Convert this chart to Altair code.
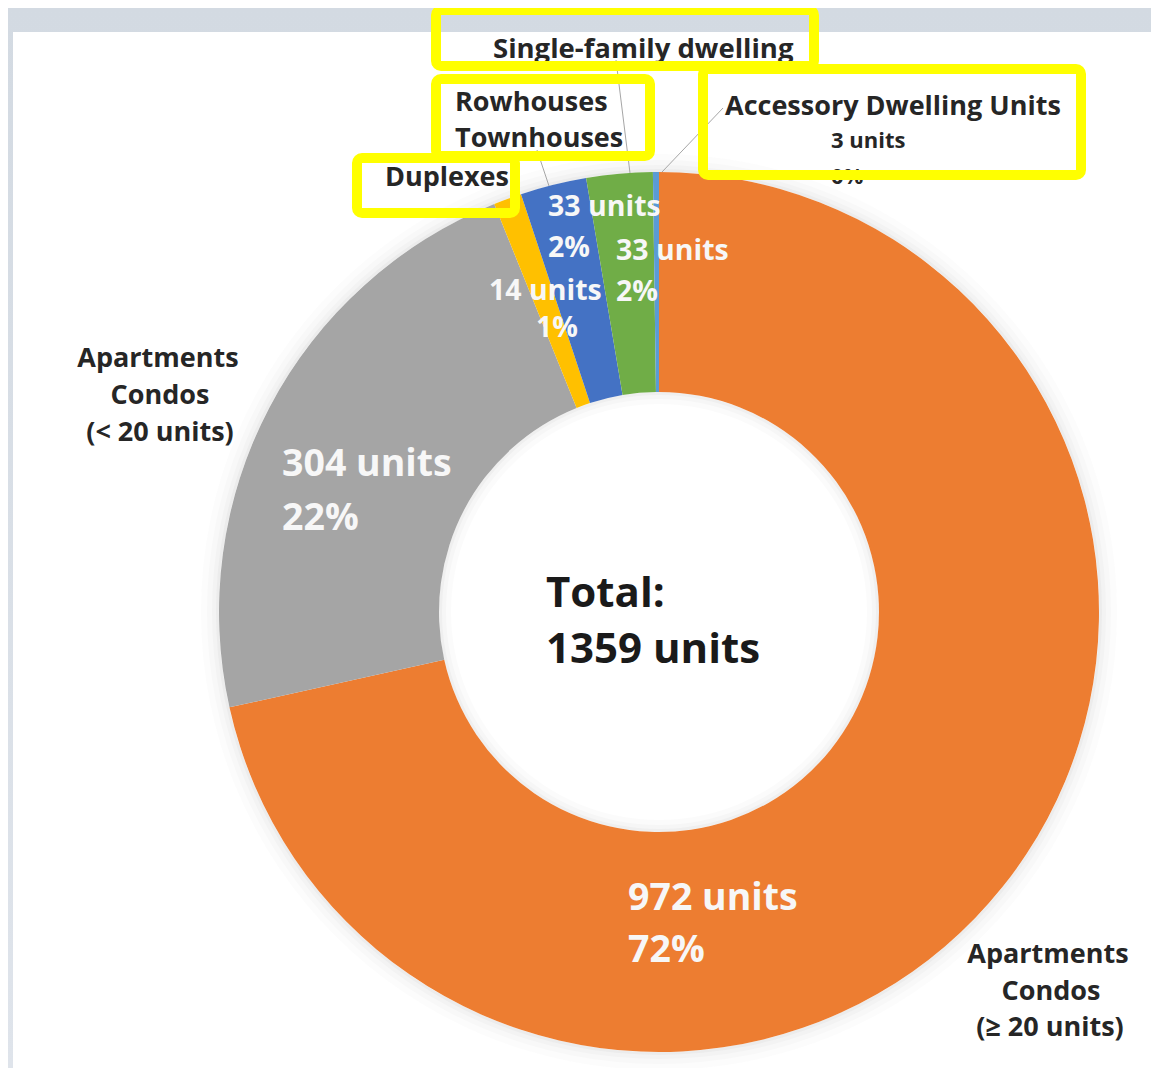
import altair as alt
import pandas as pd
import math

# ---------------- data ----------------
categories = [
    "Apartments Condos (≥ 20 units)",
    "Apartments Condos (< 20 units)",
    "Duplexes",
    "Rowhouses Townhouses",
    "Single-family dwelling",
    "Accessory Dwelling Units",
]
units = [972, 304, 14, 33, 33, 3]
colors = ["#ED7D31", "#A5A5A5", "#FFC000", "#4472C4", "#70AD47", "#5B9BD5"]
total_units = 1359

pct = [f"{round(100 * u / total_units)}%" for u in units]
unit_txt = [f"{u} units" for u in units]

# ---------------- layout (image pixel coords) ----------------
W, H = 1143, 1060
OFF = 8  # page margin
CX, CY = 659, 612
R_OUT, R_IN = 440, 220
FONT = "Open Sans"
DARK = "#262626"
WHITE = "#f7f7f7"

xs = alt.Scale(domain=[OFF, OFF + W], nice=False, zero=False)
ys = alt.Scale(domain=[OFF, OFF + H], nice=False, zero=False, reverse=True)

# background + panel
bg = pd.DataFrame([{"x": OFF, "x2": OFF + W, "y": OFF, "y2": OFF + H}])
background = alt.Chart(bg).mark_rect(
    color=alt.Gradient(gradient="linear", x1=0, y1=0, x2=0, y2=1,
                       stops=[alt.GradientStop(color="#d3dae2", offset=0),
                              alt.GradientStop(color="#dfe4eb", offset=1)])
).encode(x=alt.X("x:Q", scale=xs, axis=None), x2="x2:Q",
         y=alt.Y("y:Q", scale=ys, axis=None), y2="y2:Q")

pn = pd.DataFrame([{"x": 13, "x2": OFF + W, "y": 32, "y2": OFF + H}])
panel = alt.Chart(pn).mark_rect(color="white").encode(
    x=alt.X("x:Q", scale=xs, axis=None), x2="x2:Q",
    y=alt.Y("y:Q", scale=ys, axis=None), y2="y2:Q")

# soft shadow rings
ring_layers = []
for r0, r1, op in [(R_OUT, R_OUT + 3, 0.05), (R_OUT, R_OUT + 7, 0.04), (R_OUT, R_OUT + 12, 0.03),
                   (R_OUT, R_OUT + 18, 0.02),
                   (R_IN - 3, R_IN, 0.05), (R_IN - 7, R_IN, 0.04), (R_IN - 12, R_IN, 0.03)]:
    ring_layers.append(
        alt.Chart(pd.DataFrame([{"a": 1}])).mark_arc(
            theta=0, theta2=2 * math.pi, innerRadius=r0, outerRadius=r1,
            color="#7f7f7f", opacity=op
        ).encode(x=alt.value(CX - OFF), y=alt.value(CY - OFF))
    )

# donut
df = pd.DataFrame({"cat": categories, "units": units, "idx": list(range(len(units)))})
donut = alt.Chart(df).mark_arc(innerRadius=R_IN, outerRadius=R_OUT).encode(
    theta=alt.Theta("units:Q", stack=True),
    order=alt.Order("idx:Q"),
    color=alt.Color("cat:N", scale=alt.Scale(domain=categories, range=colors), legend=None),
    x=alt.value(CX - OFF), y=alt.value(CY - OFF),
)

# leader lines
leaders = pd.DataFrame([
    {"x": 616, "y": 60, "x2": 630, "y2": 173},
    {"x": 537, "y": 150, "x2": 549, "y2": 186},
    {"x": 723, "y": 108, "x2": 662, "y2": 172},
])
lines = alt.Chart(leaders).mark_rule(color="#a6a6a6", strokeWidth=1).encode(
    x=alt.X("x:Q", scale=xs), y=alt.Y("y:Q", scale=ys), x2="x2:Q", y2="y2:Q")

# text labels
labels = [
    # outside labels (left aligned)
    dict(t="Single-family dwelling", x=493, y=58, s=27.5, c=DARK, a="left"),
    dict(t="Rowhouses", x=455, y=111, s=27, c=DARK, a="left"),
    dict(t="Townhouses", x=455, y=147, s=27, c=DARK, a="left"),
    dict(t="Duplexes", x=385, y=186, s=27, c=DARK, a="left"),
    dict(t="Accessory Dwelling Units", x=725, y=115, s=27, c=DARK, a="left"),
    dict(t=unit_txt[5], x=831, y=148, s=22, c=DARK, a="left"),
    dict(t=pct[5], x=831, y=184, s=22, c=DARK, a="left"),
    # side labels (centered)
    dict(t="Apartments", x=158, y=367, s=27, c=DARK, a="center"),
    dict(t="Condos", x=160, y=404, s=27, c=DARK, a="center"),
    dict(t="(< 20 units)", x=160, y=441, s=27, c=DARK, a="center"),
    dict(t="Apartments", x=1048, y=963, s=27, c=DARK, a="center"),
    dict(t="Condos", x=1051, y=1000, s=27, c=DARK, a="center"),
    dict(t="(≥ 20 units)", x=1050, y=1036, s=27, c=DARK, a="center"),
    # in-slice labels
    dict(t=unit_txt[0], x=628, y=910, s=37.5, c=WHITE, a="left"),
    dict(t=pct[0], x=628, y=962, s=37.5, c=WHITE, a="left"),
    dict(t=unit_txt[1], x=282, y=476, s=37.5, c=WHITE, a="left"),
    dict(t=pct[1], x=282, y=530, s=37.5, c=WHITE, a="left"),
    dict(t=unit_txt[2], x=489, y=300, s=28.5, c=WHITE, a="left"),
    dict(t=pct[2], x=536, y=337, s=28.5, c=WHITE, a="left"),
    dict(t=unit_txt[3], x=548, y=216, s=28.5, c=WHITE, a="left"),
    dict(t=pct[3], x=548, y=257, s=28.5, c=WHITE, a="left"),
    dict(t=unit_txt[4], x=616, y=260, s=28.5, c=WHITE, a="left"),
    dict(t=pct[4], x=616, y=301, s=28.5, c=WHITE, a="left"),
    # centre
    dict(t="Total:", x=546, y=607, s=42, c="#1a1a1a", a="left"),
    dict(t=f"{total_units} units", x=546, y=663, s=42, c="#1a1a1a", a="left"),
]
lab = pd.DataFrame(labels)

text_layers = []
for align in ["left", "center"]:
    sub = lab[lab["a"] == align]
    text_layers.append(
        alt.Chart(sub).mark_text(font=FONT, fontWeight="bold", align=align, baseline="alphabetic").encode(
            x=alt.X("x:Q", scale=xs), y=alt.Y("y:Q", scale=ys),
            text="t:N",
            size=alt.Size("s:Q", scale=None, legend=None),
            color=alt.Color("c:N", scale=None, legend=None),
        )
    )

# yellow highlight boxes (stroke centerlines)
boxes = pd.DataFrame([
    {"x": 436, "x2": 814, "y": 10, "y2": 66},
    {"x": 436, "x2": 650, "y": 79, "y2": 156},
    {"x": 357, "x2": 515, "y": 158, "y2": 213},
    {"x": 703, "x2": 1081, "y": 69, "y2": 175},
])
hl = alt.Chart(boxes).mark_rect(fillOpacity=0, stroke="#ffff00", strokeWidth=10, cornerRadius=5).encode(
    x=alt.X("x:Q", scale=xs), x2="x2:Q", y=alt.Y("y:Q", scale=ys), y2="y2:Q")

chart = alt.layer(background, panel, *ring_layers, donut, lines, *text_layers, hl).properties(
    width=W, height=H, padding=0, autosize=alt.AutoSizeParams(type="none")
).configure_view(stroke=None).configure(background="white")

chart.save("out.html", embed_options={"renderer": "svg", "actions": False})
